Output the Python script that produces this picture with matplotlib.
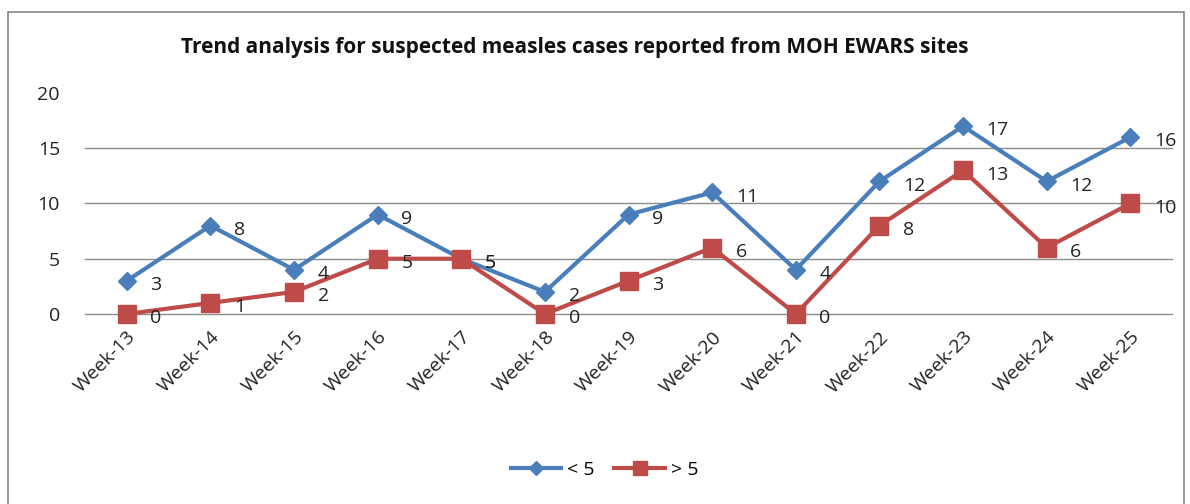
import matplotlib.pyplot as plt
from matplotlib.patches import Rectangle

weeks = ["Week-13", "Week-14", "Week-15", "Week-16", "Week-17", "Week-18", "Week-19",
         "Week-20", "Week-21", "Week-22", "Week-23", "Week-24", "Week-25"]
under5 = [3, 8, 4, 9, 5, 2, 9, 11, 4, 12, 17, 12, 16]
over5 = [0, 1, 2, 5, 5, 0, 3, 6, 0, 8, 13, 6, 10]
series_names = ["< 5", "> 5"]
title = "Trend analysis for suspected measles cases reported from MOH EWARS sites"

plt.rcParams['font.family'] = ['Open Sans', 'DejaVu Sans']

fig = plt.figure(figsize=(11.9, 5.04), dpi=100)
ax = fig.add_axes([0.0714, 0.377, 0.9136, 0.4385])

blue = '#4a7ebb'
red = '#be4b48'
x = list(range(len(weeks)))

ax.plot(x, under5, color=blue, lw=3, marker='D', ms=9, mfc=blue, mec=blue,
        label=series_names[0], zorder=3)
ax.plot(x, over5, color=red, lw=3, marker='s', ms=13, mfc=red, mec=red,
        label=series_names[1], zorder=3)

for xi, v in zip(x, under5):
    ax.annotate(str(v), (xi, v), xytext=(17, -3), textcoords='offset points',
                ha='left', va='center', fontsize=14, color='#222222', zorder=4)
for xi, v in zip(x, over5):
    ax.annotate(str(v), (xi, v), xytext=(17, -3), textcoords='offset points',
                ha='left', va='center', fontsize=14, color='#222222', zorder=4)

ax.set_xlim(-0.5, len(weeks) - 0.5)
ax.set_ylim(0, 20)
ax.set_yticks([0, 5, 10, 15, 20])
for yv in [0, 5, 10, 15]:
    ax.axhline(yv, color='#8c8c8c', lw=1, zorder=1)
ax.set_xticks(x)
ax.set_xticklabels(weeks, rotation=45, ha='right', rotation_mode='anchor', fontsize=14)
ax.tick_params(axis='both', length=0, labelsize=14, colors='#222222')
ax.tick_params(axis='x', pad=10)
ax.tick_params(axis='y', pad=18)
for s in ax.spines.values():
    s.set_visible(False)
for ln in ax.lines:
    ln.set_clip_on(False)

fig.text(0.483, 0.905, title, ha='center', va='center', fontsize=15,
         fontweight='bold', color='#111111')

leg = fig.legend(loc='center', bbox_to_anchor=(0.508, 0.067), ncol=2, frameon=False,
                 fontsize=14, handlelength=2.6, columnspacing=1.0, handletextpad=0.3,
                 markerscale=0.75)

fig.patches.append(Rectangle((0.007, -0.05), 0.988, 1.026, transform=fig.transFigure,
                             fill=False, edgecolor='#888888', lw=1.2))

fig.savefig('out.png', dpi=100)
